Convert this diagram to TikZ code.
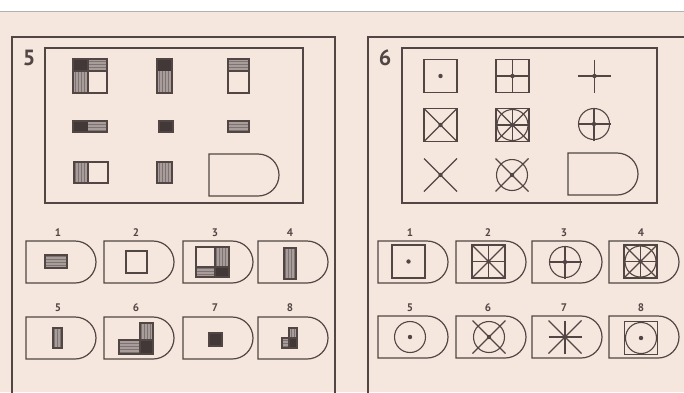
\documentclass[tikz,border=0pt]{standalone}
\usepackage{fontspec}
\setsansfont{PT Sans}
\usetikzlibrary{patterns}
\definecolor{paper}{RGB}{245,231,222}
\definecolor{ink}{RGB}{82,70,68}
\definecolor{shade}{RGB}{170,156,152}
\definecolor{deep}{RGB}{66,56,56}
\tikzset{
  frame/.style={draw=ink, line width=1.4pt},
  outline/.style={draw=ink, line width=1.2pt},
  markline/.style={draw=ink, line width=1.1pt},
  hbars/.style={fill=shade, postaction={pattern=horizontal lines, pattern color=deep!70}},
  vbars/.style={fill=shade, postaction={pattern=vertical lines, pattern color=deep!70}},
  blackcell/.style={fill=deep},
  optnum/.style={font=\sffamily\bfseries\fontsize{11}{12}\selectfont, text=ink},
  panelnum/.style={font=\sffamily\bfseries\fontsize{22}{24}\selectfont, text=ink},
  pics/tab/.style={code={\draw[outline] (0,0) -- (49,0) arc(-90:90:21) -- (0,42) -- cycle;}}
}
\pgfkeys{/glyph/.cd,
  sq/.code={\draw[outline] (-16.5,-16.5) rectangle (16.5,16.5);},
  plus/.code={\draw[markline] (-16.5,0) -- (16.5,0) (0,-16.5) -- (0,16.5);},
  diag/.code={\draw[markline] (-16.5,-16.5) -- (16.5,16.5) (-16.5,16.5) -- (16.5,-16.5);},
  ring/.code={\draw[markline] (0,0) circle (15.5);},
  dot/.code={\fill[ink] (0,0) circle (2.2);}}
\newcommand\glyph[3]{\begin{scope}[shift={(#1,#2)}]\pgfkeys{/glyph/.cd,#3}\end{scope}}
\begin{document}
\begin{tikzpicture}[x=1pt,y=-1pt]
\useasboundingbox (0,0) rectangle (684,392);
\fill[paper] (0,11) rectangle (684,392);
\fill[white] (0,0) rectangle (684,11);
\draw[gray!60, line width=0.8pt] (0,11) -- (684,11);
% frames
\draw[frame] (12,396) -- (12,37) -- (335,37) -- (335,396);
\draw[frame] (368,396) -- (368,37) -- (690,37);
\draw[frame] (45,48) rectangle (303,203);
\draw[frame] (402,48) rectangle (657,203);
\node[panelnum] (p5) at (29,58) {5};
\node[panelnum] (p6) at (385,58) {6};

% panel 5, grid
\path[blackcell] (73,59) rectangle (88,71);
\path[hbars] (88,59) rectangle (107,71);
\path[vbars] (73,71) rectangle (88,93);
\draw[outline] (73,59) rectangle (107,93) (88,59) -- (88,93) (73,71) -- (107,71);
\path[blackcell] (157,59) rectangle (172,71);
\path[vbars] (157,71) rectangle (172,93);
\draw[outline] (157,59) rectangle (172,93);
\path[hbars] (228,59) rectangle (249,71);
\draw[outline] (228,59) rectangle (249,93) (228,71) -- (249,71);
\path[blackcell] (73,121) rectangle (88,132);
\path[hbars] (88,121) rectangle (107,132);
\draw[outline] (73,121) rectangle (107,132);
\filldraw[outline, blackcell] (159,121) rectangle (173,132);
\path[hbars] (228,121) rectangle (249,132);
\draw[outline] (228,121) rectangle (249,132);
\path[vbars] (74,162) rectangle (88,183);
\draw[outline] (74,162) rectangle (108,183) (88,162) -- (88,183);
\path[vbars] (157,162) rectangle (172,183);
\draw[outline] (157,162) rectangle (172,183);
\pic at (209,154) {tab};

% panel 5, answers
\foreach \x [count=\i] in {26,104,183,258} {
    \pic at (\x,241) {tab};
    \node[optnum] (a5-\i) at (\x+32,233) {\i};
}
\foreach \x [count=\i from 5] in {26,104,183,258} {
    \pic at (\x,317) {tab};
    \node[optnum] (a5-\i) at (\x+32,308) {\i};
}
\path[hbars] (45,255) rectangle (67,268);
\draw[outline] (45,255) rectangle (67,268);
\draw[outline] (126,251) rectangle (147,273);
\path[hbars] (196,267) rectangle (215,277);
\path[vbars] (215,247) rectangle (229,267);
\path[blackcell] (215,267) rectangle (229,277);
\draw[outline] (196,247) rectangle (229,277) (215,247) -- (215,277) (196,267) -- (229,267);
\path[vbars] (284,248) rectangle (296,279);
\draw[outline] (284,248) rectangle (296,279);
\path[vbars] (53,328) rectangle (62,348);
\draw[outline] (53,328) rectangle (62,348);
\path[vbars] (140,323) rectangle (153,340);
\path[hbars] (119,340) rectangle (140,354);
\path[blackcell] (140,340) rectangle (153,354);
\draw[outline] (119,340) -- (140,340) -- (140,323) -- (153,323) -- (153,354) -- (119,354) -- cycle
    (140,340) -- (140,354) (140,340) -- (153,340);
\filldraw[outline, blackcell] (209,333) rectangle (222,346);
\path[vbars] (289,328) rectangle (297,338);
\path[hbars] (282,338) rectangle (289,348);
\path[blackcell] (289,338) rectangle (297,348);
\draw[outline] (282,338) -- (289,338) -- (289,328) -- (297,328) -- (297,348) -- (282,348) -- cycle
    (289,338) -- (289,348) (289,338) -- (297,338);

% panel 6, grid
\glyph{440.5}{76}{sq,dot}
\glyph{512.5}{76}{sq,plus,dot}
\glyph{594.5}{76}{plus,dot}
\glyph{440.5}{125}{sq,diag,dot}
\glyph{512.5}{125}{sq,plus,diag,ring,dot}
\glyph{594}{124}{ring,plus,dot}
\glyph{440.5}{175}{diag,dot}
\glyph{512}{175}{ring,diag,dot}
\pic at (568,153) {tab};

% panel 6, answers
\foreach \x [count=\i] in {378,456,532,609} {
    \pic at (\x,241) {tab};
    \node[optnum] (a6-\i) at (\x+32,233) {\i};
}
\foreach \x [count=\i from 5] in {378,456,532,609} {
    \pic at (\x,316) {tab};
    \node[optnum] (a6-\i) at (\x+32,308) {\i};
}
\glyph{408.5}{261.5}{sq,dot}
\glyph{488.5}{261.5}{sq,plus,diag,dot}
\glyph{565}{262}{ring,plus,dot}
\glyph{640.5}{261.5}{sq,plus,diag,ring,dot}
\glyph{410}{337}{ring,dot}
\glyph{489}{337}{ring,diag,dot}
\glyph{565}{337}{plus,diag,dot}
\glyph{641}{338}{sq,ring,dot}
\end{tikzpicture}
\end{document}
